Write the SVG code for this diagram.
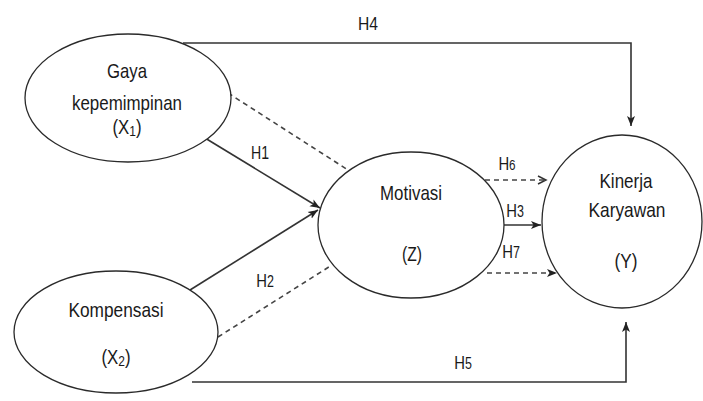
<svg xmlns="http://www.w3.org/2000/svg" width="703" height="401" viewBox="0 0 703 401">
<style>
.node{fill:#fff;stroke:#2a2a2a;stroke-width:1.3}
.t{font-family:"Liberation Sans",Arial,sans-serif;font-size:21px;fill:#1a1a1a;text-anchor:middle}
.lbl{font-family:"Liberation Sans",Arial,sans-serif;font-size:19px;fill:#1a1a1a;text-anchor:middle}
.sol{fill:none;stroke:#333;stroke-width:1.6}
.dsh{fill:none;stroke:#444;stroke-width:1.6;stroke-dasharray:5 4}
</style>
<defs>
<marker id="af" markerUnits="userSpaceOnUse" markerWidth="11" markerHeight="9" refX="10" refY="4.5" orient="auto"><path d="M0,0.5 L10,4.5 L0,8.5 L2.5,4.5 z" fill="#222"/></marker>
<marker id="ao" markerUnits="userSpaceOnUse" markerWidth="11" markerHeight="11" refX="9" refY="5" orient="auto"><path d="M1,1 L9,5 L1,9" fill="none" stroke="#333" stroke-width="1.5"/></marker>
</defs>
<rect width="703" height="401" fill="#fff"/>
<g id="connectors">
<path class="sol" d="M183,43 L631,43 L631,126" marker-end="url(#af)"/>
<path class="sol" d="M192,382 L626,382 L626,322" marker-end="url(#af)"/>
<line class="sol" x1="205" y1="138" x2="320" y2="208" marker-end="url(#af)"/>
<line class="sol" x1="190" y1="290" x2="318" y2="210" marker-end="url(#af)"/>
<line class="dsh" x1="228" y1="93" x2="348" y2="170"/>
<line class="dsh" x1="218" y1="337" x2="332" y2="265"/>
<line class="dsh" x1="485" y1="180" x2="546" y2="180" marker-end="url(#ao)"/>
<line class="sol" x1="504" y1="225" x2="541" y2="225" marker-end="url(#af)"/>
<line class="dsh" x1="487" y1="273" x2="557" y2="273" marker-end="url(#af)"/>
<text class="lbl" x="368" y="30" textLength="20" lengthAdjust="spacingAndGlyphs">H4</text>
<text class="lbl" transform="translate(463,369) scale(0.78,1)">H<tspan font-size="16">5</tspan></text>
<text class="lbl" x="260" y="159" textLength="18" lengthAdjust="spacingAndGlyphs">H1</text>
<text class="lbl" transform="translate(265,287) scale(0.78,1)">H<tspan font-size="16">2</tspan></text>
<text class="lbl" transform="translate(507,170) scale(0.78,1)">H<tspan font-size="15">6</tspan></text>
<text class="lbl" transform="translate(515,217) scale(0.78,1)">H<tspan font-size="16">3</tspan></text>
<text class="lbl" transform="translate(511,258) scale(0.78,1)">H<tspan font-size="16">7</tspan></text>
</g>
<g id="X1">
<ellipse class="node" cx="128" cy="98" rx="103" ry="64"/>
<text class="t" x="127" y="78" textLength="40" lengthAdjust="spacingAndGlyphs">Gaya</text>
<text class="t" x="127" y="110" textLength="110" lengthAdjust="spacingAndGlyphs">kepemimpinan</text>
<text class="t" transform="translate(127,134) scale(0.8,1)">(X<tspan font-size="15" dy="2">1</tspan><tspan dy="-2">)</tspan></text>
</g>
<g id="X2">
<ellipse class="node" cx="116" cy="332" rx="102" ry="61"/>
<text class="t" x="116" y="317" textLength="95" lengthAdjust="spacingAndGlyphs">Kompensasi</text>
<text class="t" transform="translate(116,364) scale(0.8,1)">(X<tspan font-size="15" dy="2">2</tspan><tspan dy="-2">)</tspan></text>
</g>
<g id="Z">
<ellipse class="node" cx="411" cy="225" rx="93" ry="73"/>
<text class="t" x="411" y="200" textLength="62" lengthAdjust="spacingAndGlyphs">Motivasi</text>
<text class="t" x="412" y="261" textLength="20" lengthAdjust="spacingAndGlyphs">(Z)</text>
</g>
<g id="Y">
<ellipse class="node" cx="622" cy="221.5" rx="80" ry="86.5"/>
<text class="t" x="626" y="188" textLength="53" lengthAdjust="spacingAndGlyphs">Kinerja</text>
<text class="t" x="627" y="217" textLength="77" lengthAdjust="spacingAndGlyphs">Karyawan</text>
<text class="t" x="626" y="268" textLength="23" lengthAdjust="spacingAndGlyphs">(Y)</text>
</g>
</svg>
